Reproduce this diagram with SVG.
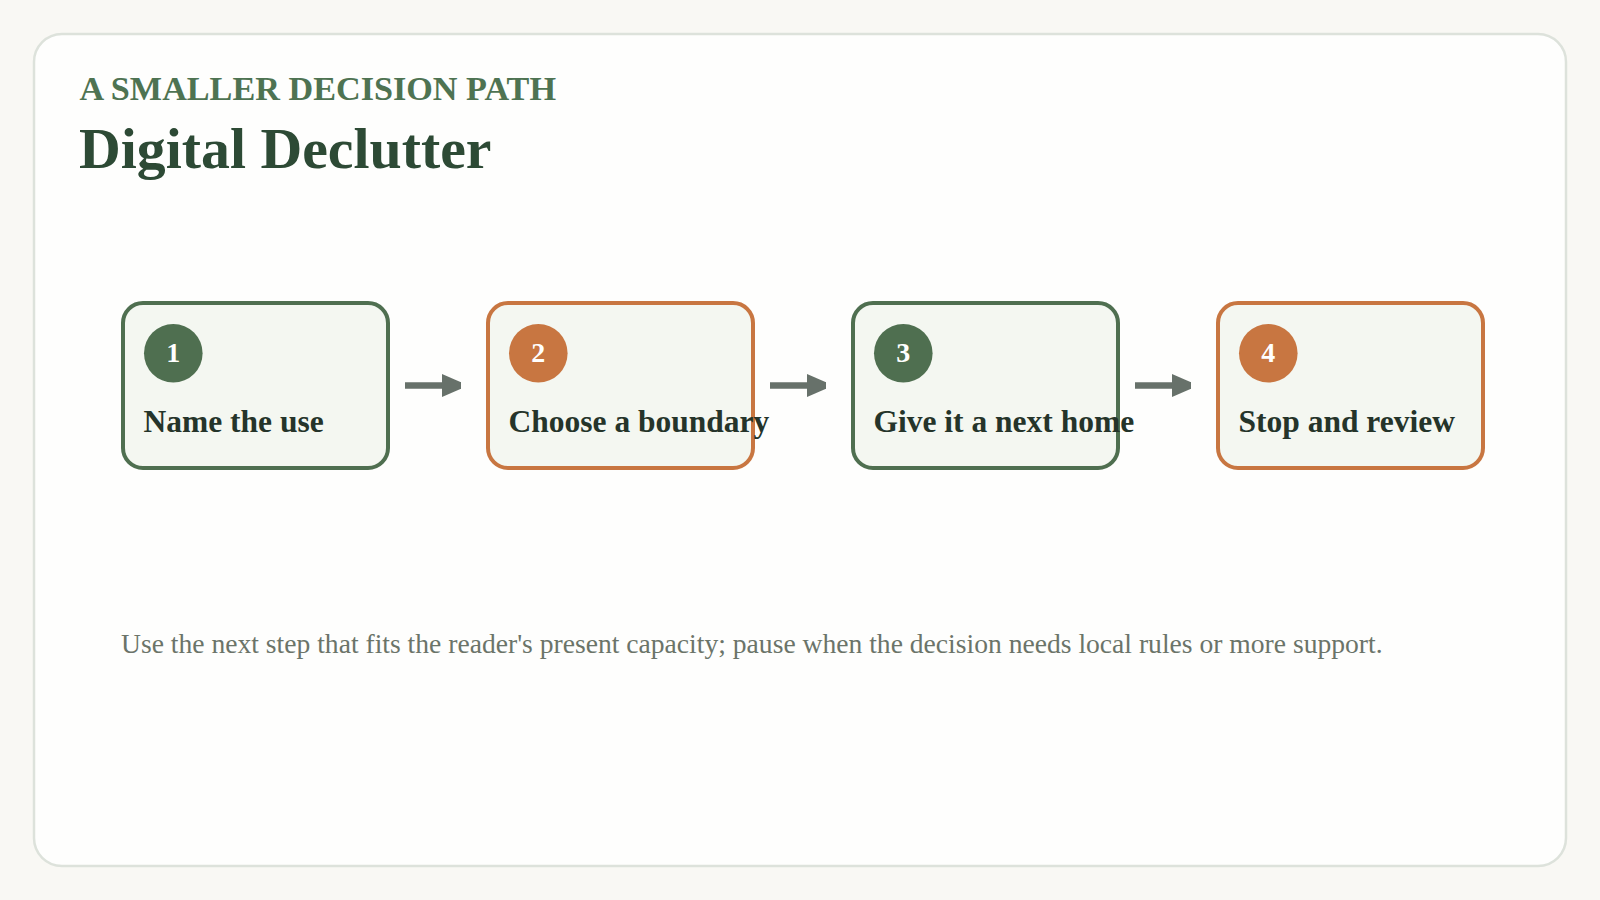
<svg xmlns="http://www.w3.org/2000/svg" width="1600" height="900" viewBox="0 0 1600 900">
  <style>
    .sub { font-family: "Liberation Serif", "DejaVu Serif", serif; font-weight: bold; font-size: 34.2px; fill: #4e7352; }
    .title { font-family: "Liberation Serif", "DejaVu Serif", serif; font-weight: bold; font-size: 57.8px; fill: #2d4a35; }
    .box { fill: #f4f7f1; stroke-width: 4; }
    .green .box { stroke: #4f6f50; }
    .orange .box { stroke: #c87641; }
    .green .dot { fill: #4f6f50; }
    .orange .dot { fill: #c87641; }
    .num { font-family: "Liberation Serif", "DejaVu Serif", serif; font-weight: bold; font-size: 28px; fill: #ffffff; text-anchor: middle; }
    .label { font-family: "Liberation Serif", "DejaVu Serif", serif; font-weight: bold; font-size: 31.5px; fill: #25342a; }
    .foot { font-family: "Liberation Serif", "DejaVu Serif", serif; font-size: 27.6px; fill: #6b7469; }
    .conn { stroke: #67716a; stroke-width: 6.5; fill: none; marker-end: url(#head); }
  </style>
  <defs>
    <marker id="head" markerUnits="userSpaceOnUse" markerWidth="19" markerHeight="23" viewBox="0 0 19 23" refX="19" refY="11.5" orient="auto">
      <path d="M0,0 L19,8.3 L19,14.7 L0,23 Z" fill="#67716a"/>
    </marker>
  </defs>
  <rect x="0" y="0" width="1600" height="900" fill="#f9f8f4"/>
  <rect x="34" y="34" width="1532" height="832" rx="28" fill="#fefefd" stroke="#dde2db" stroke-width="2.5"/>
  <text class="sub" x="79.5" y="100">A SMALLER DECISION PATH</text>
  <text class="title" x="79" y="168">Digital Declutter</text>

  <g id="connectors">
    <line class="conn" x1="405" y1="385.5" x2="461" y2="385.5"/>
    <line class="conn" x1="770" y1="385.5" x2="826" y2="385.5"/>
    <line class="conn" x1="1135" y1="385.5" x2="1191" y2="385.5"/>
  </g>

  <g id="step1" class="green">
    <rect class="box" x="123" y="303" width="265" height="165" rx="20"/>
    <circle class="dot" cx="173.3" cy="353.3" r="29.3"/>
    <text class="num" x="173.3" y="362">1</text>
    <text class="label" x="143.5" y="432">Name the use</text>
  </g>
  <g id="step2" class="orange">
    <rect class="box" x="488" y="303" width="265" height="165" rx="20"/>
    <circle class="dot" cx="538.3" cy="353.3" r="29.3"/>
    <text class="num" x="538.3" y="362">2</text>
    <text class="label" x="508.5" y="432">Choose a boundary</text>
  </g>
  <g id="step3" class="green">
    <rect class="box" x="853" y="303" width="265" height="165" rx="20"/>
    <circle class="dot" cx="903.3" cy="353.3" r="29.3"/>
    <text class="num" x="903.3" y="362">3</text>
    <text class="label" x="873.5" y="432">Give it a next home</text>
  </g>
  <g id="step4" class="orange">
    <rect class="box" x="1218" y="303" width="265" height="165" rx="20"/>
    <circle class="dot" cx="1268.3" cy="353.3" r="29.3"/>
    <text class="num" x="1268.3" y="362">4</text>
    <text class="label" x="1238.5" y="432">Stop and review</text>
  </g>

  <text class="foot" x="121" y="653">Use the next step that fits the reader's present capacity; pause when the decision needs local rules or more support.</text>
</svg>
